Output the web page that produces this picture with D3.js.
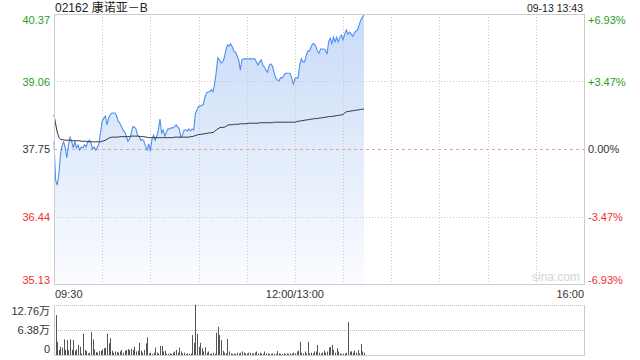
<!DOCTYPE html>
<html>
<head>
<meta charset="utf-8">
<script src="https://cdn.jsdelivr.net/npm/d3@7"></script>
<style>
  body { margin: 0; background: #fff; }
  text { font-family: "Liberation Sans", Arial, "Noto Sans CJK SC", sans-serif; }
</style>
</head>
<body>
<script>
// Minute prices 09:30 .. 13:43 (lunch break collapsed)
const prices = [
  37.90, 37.15, 37.05, 37.25, 37.63, 37.81, 37.89, 37.77, 37.58, 37.83,
  37.98, 37.90, 37.77, 37.89, 37.77, 37.83, 37.73, 37.79, 37.77, 37.83,
  37.79, 37.89, 37.92, 37.87, 37.75, 37.79, 37.73, 37.79, 37.85, 38.08,
  38.29, 38.35, 38.39, 38.22, 38.35, 38.41, 38.45, 38.45, 38.45, 38.39,
  38.29, 38.25, 38.18, 38.12, 38.08, 38.00, 37.90, 37.94, 38.04, 38.18,
  38.18, 38.14, 38.02, 38.00, 37.92, 37.94, 37.90, 37.81, 37.73, 37.85,
  37.71, 37.94, 38.02, 37.92, 38.00, 38.12, 38.33, 38.06, 38.12, 38.00,
  38.08, 38.14, 38.14, 38.16, 38.16, 38.18, 38.22, 38.18, 38.14, 37.98,
  38.02, 38.12, 38.12, 38.10, 38.14, 38.10, 38.14, 38.12, 38.43, 38.51,
  38.57, 38.59, 38.59, 38.62, 38.76, 38.84, 38.86, 38.86, 38.90, 38.86,
  39.00, 39.24, 39.52, 39.48, 39.42, 39.44, 39.52, 39.67, 39.77, 39.75,
  39.79, 39.73, 39.65, 39.63, 39.56, 39.48, 39.28, 39.48, 39.50, 39.50,
  39.50, 39.50, 39.50, 39.50, 39.50, 39.50, 39.44, 39.38, 39.44, 39.48,
  39.38, 39.34, 39.28, 39.24, 39.38, 39.40, 39.36, 39.24, 39.13, 39.09,
  39.07, 39.13, 39.13, 39.17, 39.22, 39.22, 39.22, 39.22, 39.13, 39.01,
  39.11, 39.13, 39.13, 39.38, 39.50, 39.44, 39.44, 39.56, 39.65, 39.65,
  39.73, 39.79, 39.79, 39.75, 39.65, 39.61, 39.69, 39.69, 39.69, 39.67,
  39.59, 39.83, 39.90, 39.79, 39.92, 39.83, 39.92, 39.83, 39.92, 39.96,
  39.87, 39.98, 40.06, 39.98, 40.02, 39.98, 39.94, 40.00, 40.04, 40.06,
  40.16, 40.25, 40.31, 40.35
];

// Average price line
const avgPrices = [
  38.41, 38.24, 38.08, 37.98, 37.94, 37.93, 37.93, 37.92, 37.92, 37.92,
  37.92, 37.91, 37.91, 37.91, 37.91, 37.91, 37.91, 37.90, 37.90, 37.90,
  37.90, 37.89, 37.89, 37.89, 37.89, 37.89, 37.89, 37.89, 37.89, 37.89,
  37.90, 37.91, 37.92, 37.94, 37.96, 37.97, 37.98, 37.98, 37.98, 37.98,
  37.98, 37.99, 37.99, 37.99, 37.99, 37.99, 37.99, 37.99, 38.00, 38.00,
  38.00, 38.00, 38.00, 37.99, 37.99, 37.99, 37.99, 37.98, 37.98, 37.97,
  37.97, 37.97, 37.97, 37.97, 37.97, 37.97, 37.97, 37.97, 37.97, 37.97,
  37.97, 37.97, 37.97, 37.97, 37.97, 37.98, 37.98, 37.98, 37.98, 37.98,
  37.98, 37.98, 37.98, 37.98, 37.98, 37.99, 37.99, 38.00, 38.01, 38.02,
  38.03, 38.03, 38.04, 38.04, 38.05, 38.05, 38.06, 38.06, 38.07, 38.07,
  38.09, 38.12, 38.14, 38.16, 38.17, 38.17, 38.17, 38.19, 38.21, 38.22,
  38.22, 38.22, 38.23, 38.23, 38.23, 38.23, 38.24, 38.24, 38.24, 38.24,
  38.24, 38.25, 38.25, 38.25, 38.25, 38.25, 38.25, 38.25, 38.26, 38.26,
  38.26, 38.26, 38.26, 38.26, 38.26, 38.26, 38.26, 38.27, 38.27, 38.27,
  38.27, 38.27, 38.27, 38.27, 38.27, 38.27, 38.27, 38.27, 38.27, 38.27,
  38.27, 38.28, 38.29, 38.29, 38.30, 38.30, 38.31, 38.31, 38.32, 38.32,
  38.33, 38.33, 38.34, 38.34, 38.34, 38.35, 38.35, 38.36, 38.36, 38.37,
  38.37, 38.38, 38.38, 38.38, 38.39, 38.39, 38.40, 38.40, 38.41, 38.41,
  38.42, 38.45, 38.47, 38.48, 38.48, 38.49, 38.49, 38.50, 38.50, 38.51,
  38.51, 38.52, 38.52, 38.53
];

// Minute volumes, in 万
const volumes = [
  7.7, 10.2, 3.4, 1.3, 2.1, 1.9, 4.0, 1.3, 3.8, 1.2,
  4.0, 1.3, 3.8, 1.1, 1.4, 2.6, 2.1, 0.4, 5.4, 1.3,
  1.0, 0.4, 0.6, 5.9, 4.0, 1.4, 0.8, 0.6, 1.0, 1.1,
  1.4, 1.7, 1.9, 5.4, 3.0, 4.3, 1.1, 0.6, 0.9, 0.8,
  0.6, 0.9, 1.3, 0.6, 1.1, 1.3, 1.5, 1.3, 1.6, 1.3,
  2.1, 0.9, 1.1, 3.1, 1.1, 0.6, 1.3, 3.0, 4.5, 0.4,
  0.6, 0.3, 0.6, 1.9, 0.6, 0.4, 2.3, 2.3, 0.9, 1.1,
  0.3, 0.3, 0.4, 0.3, 0.6, 0.9, 1.3, 0.6, 1.9, 0.9,
  0.4, 0.6, 0.3, 0.4, 0.3, 0.4, 5.1, 3.1, 12.8, 5.4,
  2.1, 3.1, 1.7, 0.9, 2.0, 0.6, 0.9, 0.3, 0.4, 0.6,
  0.3, 5.7, 7.2, 5.1, 3.8, 1.1, 0.6, 0.4, 4.1, 0.9,
  0.4, 0.3, 0.4, 0.3, 0.6, 0.4, 0.6, 0.9, 0.6, 0.4,
  0.4, 0.6, 0.6, 0.4, 0.4, 0.6, 0.9, 0.4, 0.6, 0.4,
  0.3, 0.9, 0.4, 0.4, 0.3, 0.3, 0.4, 0.3, 0.3, 1.0,
  0.4, 0.3, 0.3, 0.4, 0.3, 0.4, 0.3, 0.4, 0.4, 0.6,
  0.4, 0.9, 1.1, 3.4, 0.6, 0.4, 0.9, 0.4, 3.4, 0.4,
  0.6, 0.4, 0.9, 0.9, 2.6, 0.6, 0.4, 0.6, 1.1, 0.6,
  0.9, 1.9, 2.1, 2.6, 1.3, 0.6, 1.7, 0.9, 0.4, 0.3,
  0.4, 0.4, 0.6, 8.4, 0.9, 0.9, 0.6, 1.1, 0.6, 1.3,
  0.4, 2.8, 0.9, 0.6
];

const priceTicks = [40.37, 39.06, 37.75, 36.44, 35.13];
const pctTicks = ["+6.93%", "+3.47%", "0.00%", "-3.47%", "-6.93%"];
const timeLabels = ["09:30", "12:00/13:00", "16:00"];
const timeTickMinutes = [0, 150, 330];
const volTicks = [12.76, 6.38, 0];
const volTickLabels = ["12.76万", "6.38万", "0"];
const prevClose = 37.75;
const title = "02162 康诺亚－B";
const stamp = "09-13 13:43";

const width = 640, height = 360;
const plotLeft = 54, plotRight = 584;
const plotTop = 14, plotBottom = 284;
const volTop = 305, volBottom = 355;

const green = "#1f9e1f", red = "#f03030", textColor = "#333";

const svg = d3.select("body").append("svg")
  .attr("width", width)
  .attr("height", height);

// scales
const x = d3.scaleLinear().domain([0, 330]).range([plotLeft, plotRight]);
const y = d3.scaleLinear().domain([35.13, 40.37]).range([plotBottom, plotTop]);
const yVol = d3.scaleLinear().domain([0, 12.76]).range([volBottom, volTop]);

// gradient under the price line (fades out near the bottom)
const grad = svg.append("defs").append("linearGradient")
  .attr("id", "fill")
  .attr("x1", 0).attr("y1", 0).attr("x2", 0).attr("y2", 1);
grad.append("stop").attr("offset", "0%").attr("stop-color", "#c8dbf7");
grad.append("stop").attr("offset", "100%").attr("stop-color", "#fbfcff");

// title row
svg.append("text")
  .attr("x", plotLeft + 1).attr("y", 12)
  .attr("font-size", 12).attr("fill", "#222")
  .text(title);
svg.append("text")
  .attr("x", plotRight - 1).attr("y", 12)
  .attr("text-anchor", "end")
  .attr("font-size", 10.5).attr("fill", "#222")
  .text(stamp);

// price area first, grid drawn over it
const area = d3.area()
  .x((d, i) => x(i))
  .y0(plotBottom)
  .y1(d => y(d));
svg.append("path")
  .datum(prices)
  .attr("d", area)
  .attr("fill", "url(#fill)");

// vertical grid every 30 minutes
const vMinutes = d3.range(30, 330, 30);
svg.selectAll(".vgrid")
  .data(vMinutes)
  .enter()
  .append("line")
  .attr("x1", d => Math.round(x(d)) + 0.5).attr("x2", d => Math.round(x(d)) + 0.5)
  .attr("y1", plotTop).attr("y2", plotBottom)
  .attr("stroke", "#c8c8c8")
  .attr("stroke-dasharray", "1,2");

// horizontal grid
svg.selectAll(".hgrid")
  .data(priceTicks.filter((d, i) => i === 1 || i === 3))
  .enter()
  .append("line")
  .attr("x1", plotLeft).attr("x2", plotRight)
  .attr("y1", d => Math.round(y(d)) + 0.5).attr("y2", d => Math.round(y(d)) + 0.5)
  .attr("stroke", "#c8c8c8")
  .attr("stroke-dasharray", "1,2");

// previous close
svg.append("line")
  .attr("x1", plotLeft).attr("x2", plotRight)
  .attr("y1", Math.round(y(prevClose)) + 0.5).attr("y2", Math.round(y(prevClose)) + 0.5)
  .attr("stroke", "#eea080")
  .attr("stroke-dasharray", "3,3");

const line = d3.line()
  .x((d, i) => x(i))
  .y(d => y(d));
svg.append("path")
  .datum(prices)
  .attr("d", line)
  .attr("fill", "none")
  .attr("stroke", "#4f8ff0")
  .attr("stroke-width", 1.1);

svg.append("path")
  .datum(avgPrices)
  .attr("d", line)
  .attr("fill", "none")
  .attr("stroke", "#333")
  .attr("stroke-width", 1);

// frame of main chart
svg.append("rect")
  .attr("x", plotLeft + 0.5).attr("y", plotTop + 0.5)
  .attr("width", plotRight - plotLeft).attr("height", plotBottom - plotTop)
  .attr("fill", "none")
  .attr("stroke", "#ccc");

// watermark
svg.append("text")
  .attr("x", plotRight - 4).attr("y", plotBottom - 3)
  .attr("text-anchor", "end")
  .attr("font-size", 12).attr("fill", "#d4d4d4")
  .text("sina.com");

// left price labels
function labelY(scale, d, i, n) {
  if (i === 0) return scale(d) + 10;
  if (i === n - 1) return scale(d);
  return scale(d) + 4;
}
function tickColor(i) {
  return i < 2 ? green : (i === 2 ? textColor : red);
}
svg.selectAll(".plabel")
  .data(priceTicks)
  .enter()
  .append("text")
  .attr("x", plotLeft - 4)
  .attr("y", (d, i) => labelY(y, d, i, priceTicks.length))
  .attr("text-anchor", "end")
  .attr("font-size", 11)
  .attr("fill", (d, i) => tickColor(i))
  .text(d => d.toFixed(2));

svg.selectAll(".pctlabel")
  .data(priceTicks)
  .enter()
  .append("text")
  .attr("x", plotRight + 4)
  .attr("y", (d, i) => labelY(y, d, i, priceTicks.length))
  .attr("font-size", 11)
  .attr("fill", (d, i) => tickColor(i))
  .text((d, i) => pctTicks[i]);

// time labels
svg.selectAll(".tlabel")
  .data(timeLabels)
  .enter()
  .append("text")
  .attr("x", (d, i) => x(timeTickMinutes[i]) + (i === 0 ? 1 : 0))
  .attr("y", 298)
  .attr("text-anchor", (d, i) => i === 0 ? "start" : (i === 1 ? "middle" : "end"))
  .attr("font-size", 11)
  .attr("fill", textColor)
  .text(d => d);

// volume panel grid
svg.selectAll(".vol-grid")
  .data(volTicks.slice(0, 2))
  .enter()
  .append("line")
  .attr("x1", plotLeft).attr("x2", plotRight)
  .attr("y1", d => Math.round(yVol(d)) + 0.5).attr("y2", d => Math.round(yVol(d)) + 0.5)
  .attr("stroke", "#bbb")
  .attr("stroke-dasharray", "1,1");

// volume bars
svg.selectAll(".vol")
  .data(volumes)
  .enter()
  .append("rect")
  .attr("x", (d, i) => Math.round(x(i)))
  .attr("y", d => yVol(d))
  .attr("width", 1)
  .attr("height", d => volBottom - yVol(d))
  .attr("fill", "#555");

// volume panel frame (sides and bottom)
svg.append("path")
  .attr("d", `M${plotLeft + 0.5},${volTop}V${volBottom + 0.5}H${plotRight + 0.5}V${volTop}`)
  .attr("fill", "none")
  .attr("stroke", "#ccc");

svg.selectAll(".vlabel")
  .data(volTicks)
  .enter()
  .append("text")
  .attr("x", plotLeft - 4)
  .attr("y", (d, i) => i === 0 ? yVol(d) + 10 : (i === 2 ? yVol(d) - 2 : yVol(d) + 4))
  .attr("text-anchor", "end")
  .attr("font-size", 11)
  .attr("fill", textColor)
  .text((d, i) => volTickLabels[i]);
</script>
</body>
</html>
